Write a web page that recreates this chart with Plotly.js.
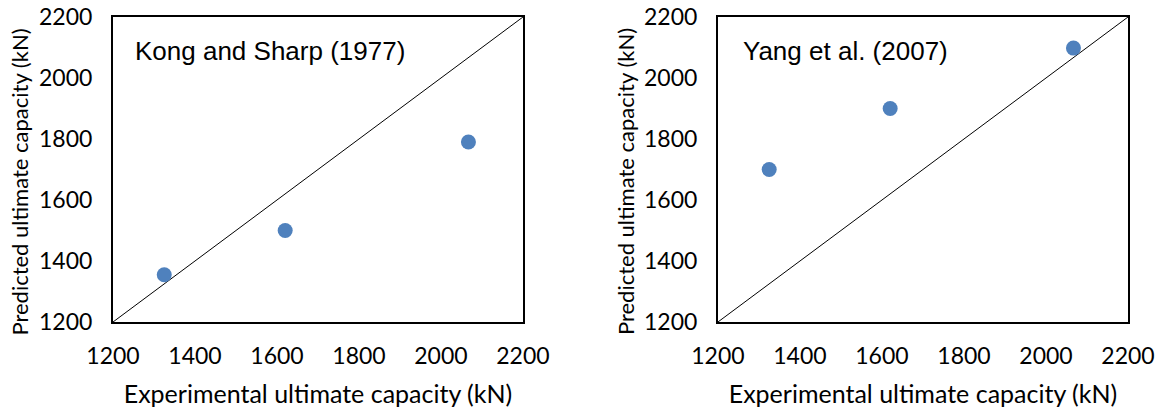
<!DOCTYPE html>
<html>
<head>
<meta charset="utf-8">
<script src="https://cdn.plot.ly/plotly-3.0.1.min.js"></script>
<style>html,body{margin:0;padding:0;background:#fff;}#chart{width:1158px;height:409px;}</style>
</head>
<body>
<div id="chart"></div>
<script>
// Data
var experimental = [1325, 1620, 2067];
var kongSharp = [1355, 1500, 1790];
var yang = [1700, 1900, 2098];
var equalityLine = [1200, 2200];
var tickValues = [1200, 1400, 1600, 1800, 2000, 2200];
var panelLabels = ["Kong and Sharp (1977)", "Yang et al. (2007)"];
var xTitle = "Experimental ultimate capacity (kN)";
var yTitle = "Predicted ultimate capacity (kN)";

var blue = "#4F81BD";
var tickFont = {family: "Lato, 'Open Sans', sans-serif", size: 23, color: "#000"};
var titleFont = {family: "Lato, 'Open Sans', sans-serif", size: 25, color: "#000"};
var yTitleFont = {family: "Lato, 'Open Sans', sans-serif", size: 22, color: "#000"};

function lineTrace(xa, ya) {
  return {x: equalityLine, y: equalityLine, xaxis: xa, yaxis: ya, mode: "lines",
          line: {color: "#000", width: 1}, hoverinfo: "skip", showlegend: false};
}
function pointTrace(ys, xa, ya, name) {
  return {x: experimental, y: ys, xaxis: xa, yaxis: ya, mode: "markers", name: name,
          marker: {color: blue, size: 15}, showlegend: false};
}

var data = [
  lineTrace("x", "y"), pointTrace(kongSharp, "x", "y", panelLabels[0]),
  lineTrace("x2", "y2"), pointTrace(yang, "x2", "y2", panelLabels[1])
];

function xAxis(domain, anchor) {
  return {domain: domain, anchor: anchor, range: [1200, 2200], tickvals: tickValues,
          showgrid: false, zeroline: false, showline: true, mirror: true,
          linecolor: "#000", linewidth: 2, ticks: "", tickfont: tickFont,
          ticklabelstandoff: 12,
          title: {text: xTitle, font: titleFont, standoff: 18}};
}
function yAxis(anchor) {
  return {domain: [0, 1], anchor: anchor, range: [1200, 2200], tickvals: tickValues,
          showgrid: false, zeroline: false, showline: true, mirror: true,
          linecolor: "#000", linewidth: 2, ticks: "", tickfont: tickFont,
          ticklabelstandoff: 14};
}

var labelFont = {family: "'Liberation Sans', Arial, sans-serif", size: 26, color: "#000"};

var layout = {
  width: 1158, height: 409,
  margin: {l: 113, r: 30, t: 17, b: 87},
  paper_bgcolor: "#fff", plot_bgcolor: "#fff",
  showlegend: false,
  xaxis: xAxis([0, 0.4039], "y"),
  yaxis: yAxis("x"),
  xaxis2: xAxis([0.596, 1], "y2"),
  yaxis2: yAxis("x2"),
  annotations: [
    {text: panelLabels[0], xref: "x domain", yref: "y domain", x: 0.05, y: 0.89,
     xanchor: "left", yanchor: "middle", showarrow: false, font: labelFont},
    {text: panelLabels[1], xref: "x2 domain", yref: "y2 domain", x: 0.057, y: 0.89,
     xanchor: "left", yanchor: "middle", showarrow: false, font: labelFont},
    {text: yTitle, xref: "paper", yref: "paper", x: -0.0930, y: 0.459,
     xanchor: "center", yanchor: "middle", textangle: -90, showarrow: false, font: yTitleFont},
    {text: yTitle, xref: "paper", yref: "paper", x: 0.5045, y: 0.459,
     xanchor: "center", yanchor: "middle", textangle: -90, showarrow: false, font: yTitleFont}
  ]
};

Plotly.newPlot("chart", data, layout, {displayModeBar: false, staticPlot: true});
</script>
</body>
</html>
